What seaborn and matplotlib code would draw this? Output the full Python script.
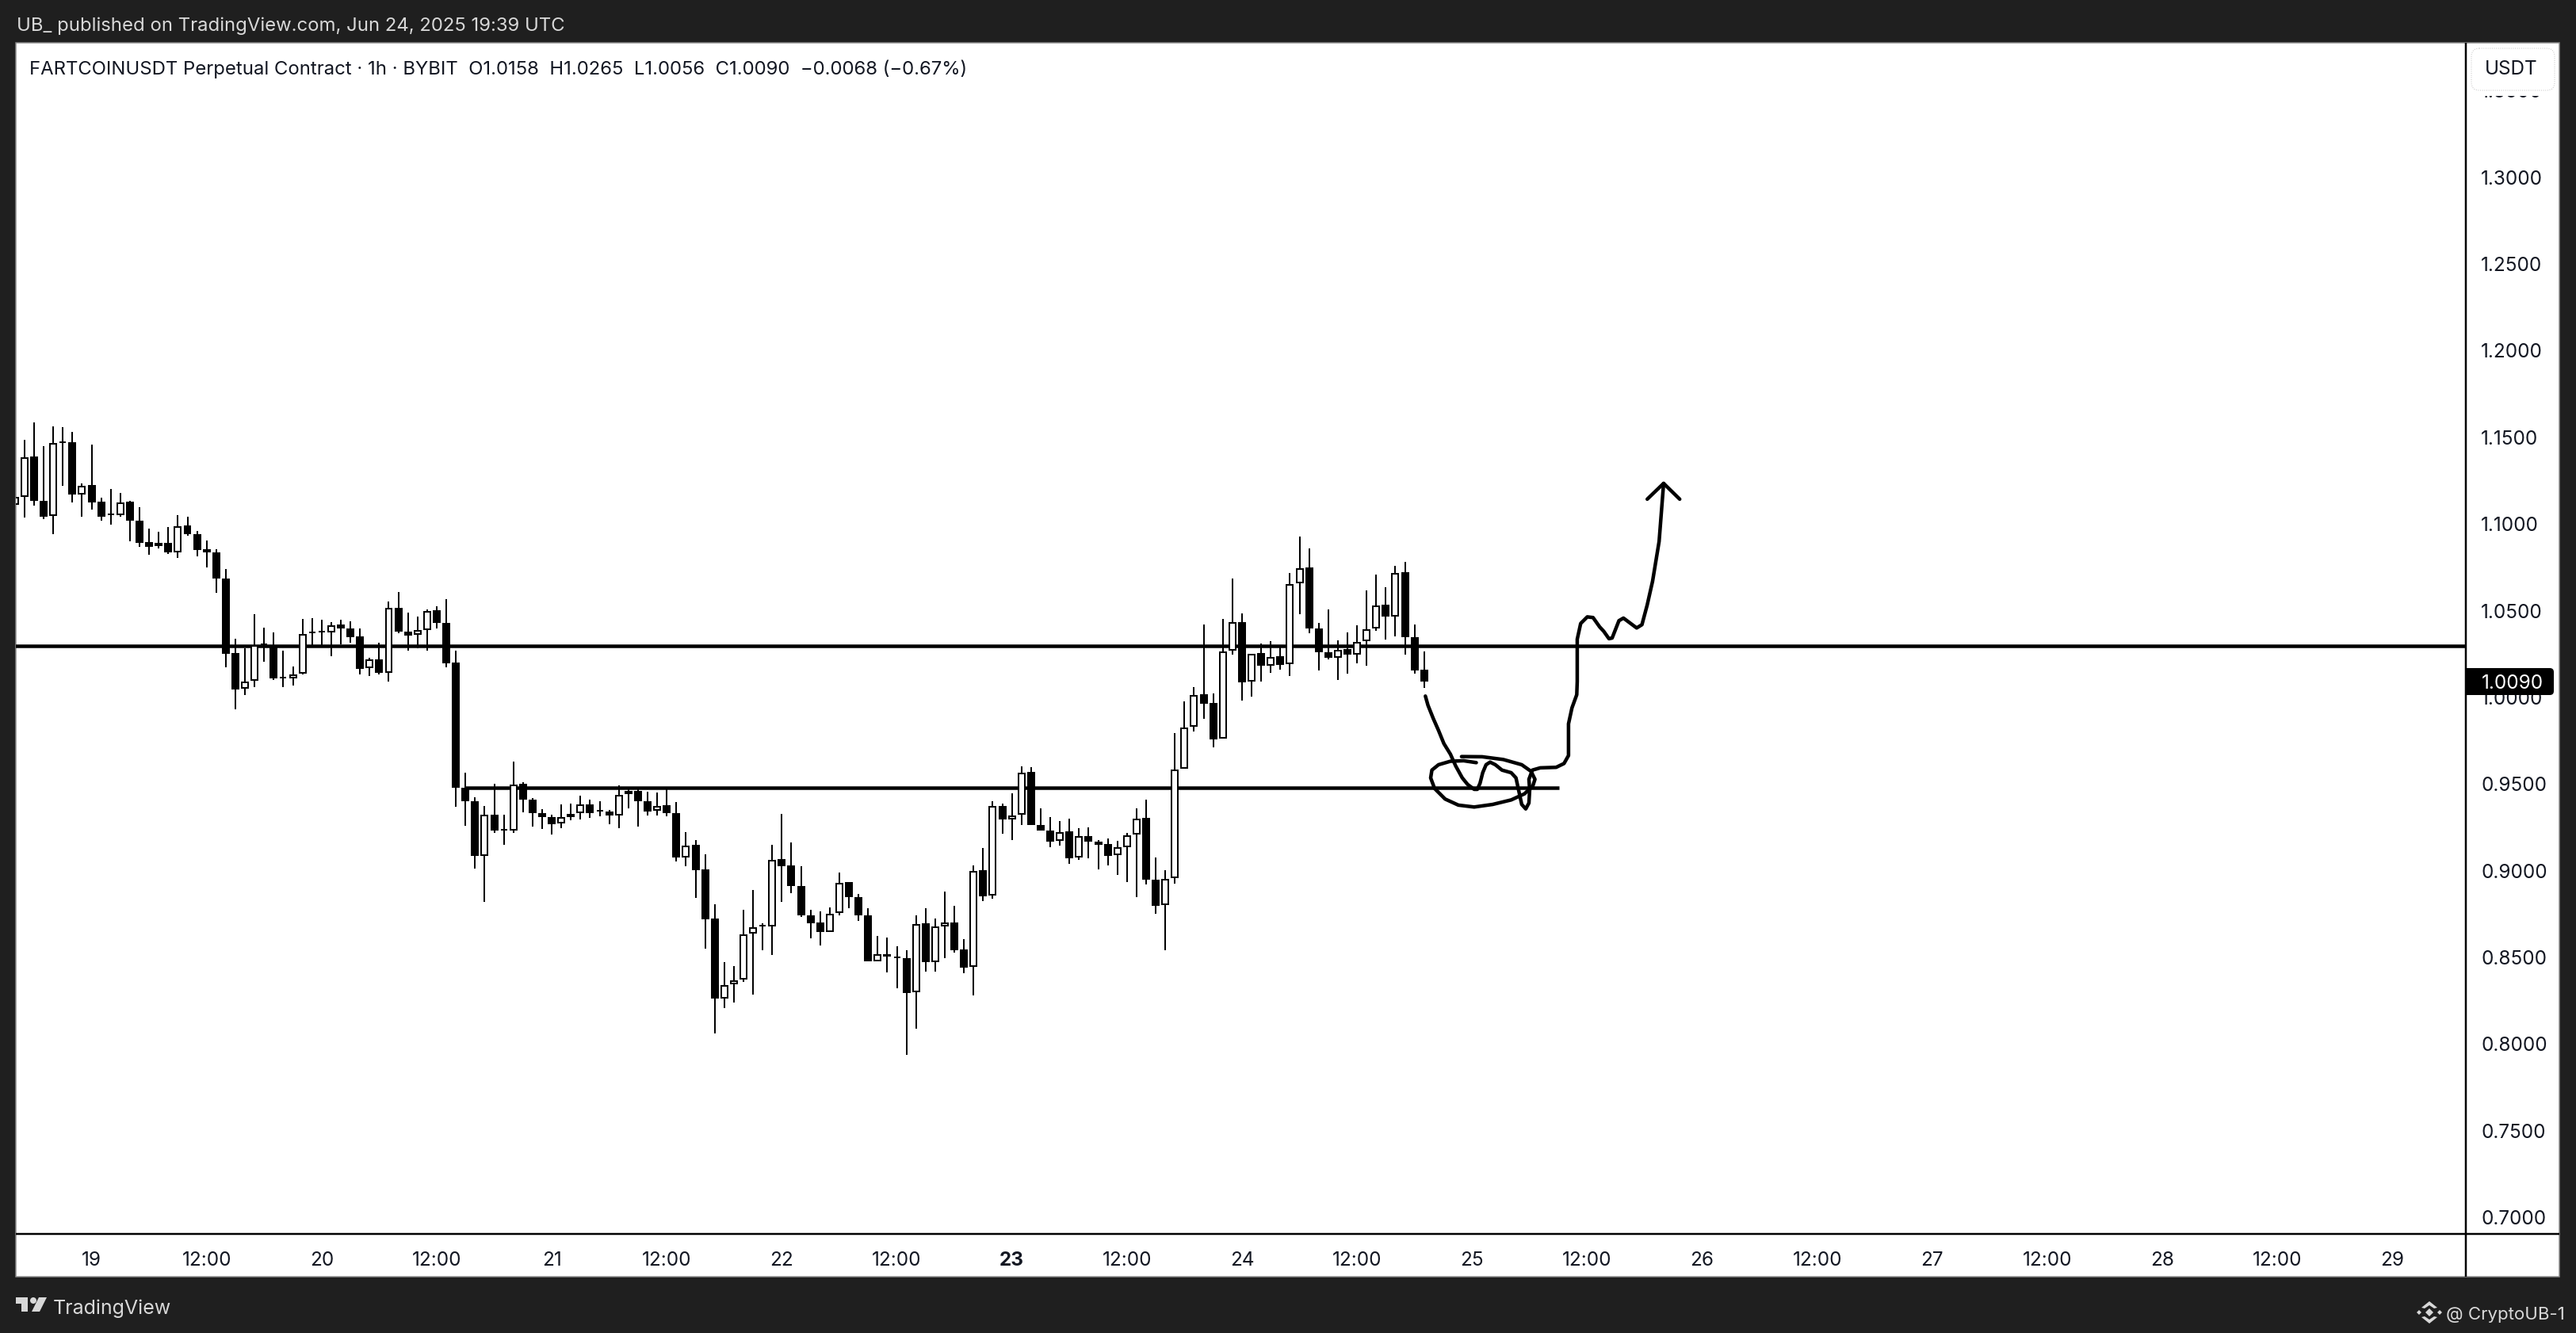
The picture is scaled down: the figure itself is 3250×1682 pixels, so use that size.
import matplotlib
matplotlib.use("Agg")
import matplotlib.pyplot as plt
from matplotlib.patches import Rectangle, Polygon, Circle, FancyBboxPatch
import pandas as pd
import seaborn as sns

# ----------------------------------------
# OHLC candles, hours counted from Jun 19 00:00
# ----------------------------------------
hours = list(range(-8, 140))
opens = [
    1.1110, 1.1157, 1.1389, 1.1133, 1.1046, 1.1475, 1.1471, 1.1171,
    1.1224, 1.1128, 1.1055, 1.1049, 1.1128, 1.1018, 1.0895, 1.0872, 1.0890, 1.0835, 1.0991, 1.0941,
    1.0854, 1.0835, 1.0684, 1.0255, 1.0050, 1.0095, 1.0308, 1.0297, 1.0113, 1.0110,
    1.0137, 1.0374, 1.0378, 1.0374, 1.0419, 1.0396, 1.0351, 1.0168, 1.0218, 1.0142,
    1.0515, 1.0381, 1.0361, 1.0389, 1.0502, 1.0428, 1.0201, 0.9480, 0.9399, 0.9085,
    0.9322, 0.9239, 0.9231, 0.9499, 0.9409, 0.9332, 0.9308, 0.9274, 0.9308, 0.9332,
    0.9382, 0.9347, 0.9339, 0.9320, 0.9441, 0.9460, 0.9399, 0.9345, 0.9376, 0.9332,
    0.9076, 0.9147, 0.9006, 0.8723, 0.8262, 0.8344, 0.8371, 0.8637, 0.8683, 0.8677,
    0.9066, 0.9029, 0.8910, 0.8741, 0.8700, 0.8646, 0.8756, 0.8933, 0.8847, 0.8741,
    0.8477, 0.8517, 0.8502, 0.8494, 0.8300, 0.8695, 0.8471, 0.8677, 0.8700, 0.8544,
    0.8444, 0.9002, 0.8855, 0.9372, 0.9294, 0.9322, 0.9569, 0.9262, 0.9230, 0.9171,
    0.9226, 0.9075, 0.9198, 0.9166, 0.9152, 0.9088, 0.9134, 0.9207, 0.9303, 0.8950,
    0.8801, 0.8957, 0.9589, 0.9830, 1.0016, 0.9967, 0.9762, 1.0271, 1.0436, 1.0091,
    1.0254, 1.0184, 1.0236, 1.0191, 1.0660, 1.0747, 1.0395, 1.0262, 1.0229, 1.0276,
    1.0247, 1.0325, 1.0397, 1.0534, 1.0467, 1.0721, 1.0348, 1.0158,
]
closes = [
    1.1154, 1.1387, 1.1131, 1.1044, 1.1465, 1.1469, 1.1168, 1.1222,
    1.1126, 1.1040, 1.1049, 1.1126, 1.1017, 1.0893, 1.0870, 1.0889, 1.0834, 1.0989, 1.0939, 1.0852,
    1.0834, 1.0683, 1.0253, 1.0047, 1.0093, 1.0300, 1.0302, 1.0107, 1.0108, 1.0134,
    1.0367, 1.0369, 1.0374, 1.0416, 1.0395, 1.0349, 1.0166, 1.0217, 1.0139, 1.0514,
    1.0381, 1.0358, 1.0386, 1.0500, 1.0427, 1.0198, 0.9476, 0.9399, 0.9083, 0.9322,
    0.9233, 0.9231, 0.9497, 0.9409, 0.9330, 0.9307, 0.9270, 0.9307, 0.9328, 0.9380,
    0.9330, 0.9339, 0.9316, 0.9439, 0.9459, 0.9399, 0.9343, 0.9374, 0.9330, 0.9074,
    0.9145, 0.9004, 0.8721, 0.8260, 0.8340, 0.8369, 0.8633, 0.8675, 0.8677, 0.9064,
    0.9027, 0.8910, 0.8741, 0.8698, 0.8644, 0.8752, 0.8931, 0.8845, 0.8741, 0.8475,
    0.8516, 0.8502, 0.8494, 0.8296, 0.8693, 0.8470, 0.8677, 0.8700, 0.8543, 0.8442,
    0.9000, 0.8854, 0.9371, 0.9293, 0.9320, 0.9567, 0.9261, 0.9229, 0.9169, 0.9224,
    0.9073, 0.9197, 0.9165, 0.9151, 0.9087, 0.9133, 0.9206, 0.9302, 0.8950, 0.8799,
    0.8953, 0.9585, 0.9827, 1.0014, 0.9965, 0.9758, 1.0266, 1.0434, 1.0087, 1.0252,
    1.0182, 1.0233, 1.0189, 1.0654, 1.0745, 1.0395, 1.0262, 1.0226, 1.0275, 1.0245,
    1.0320, 1.0394, 1.0532, 1.0464, 1.0719, 1.0348, 1.0157, 1.0090,
]
highs = [
    1.1154, 1.1485, 1.1585, 1.1448, 1.1562, 1.1558, 1.1530, 1.1233,
    1.1457, 1.1151, 1.1201, 1.1178, 1.1134, 1.1096, 1.0973, 1.0954, 1.0982, 1.1050, 1.1041, 1.0959,
    1.0904, 1.0854, 1.0739, 1.0337, 1.0282, 1.0479, 1.0401, 1.0374, 1.0270, 1.0177,
    1.0451, 1.0456, 1.0447, 1.0433, 1.0447, 1.0438, 1.0396, 1.0230, 1.0313, 1.0552,
    1.0607, 1.0488, 1.0465, 1.0509, 1.0524, 1.0566, 1.0269, 0.9564, 0.9422, 0.9372,
    0.9503, 0.9322, 0.9628, 0.9509, 0.9418, 0.9353, 0.9322, 0.9383, 0.9385, 0.9432,
    0.9409, 0.9399, 0.9349, 0.9491, 0.9472, 0.9472, 0.9455, 0.9449, 0.9472, 0.9395,
    0.9220, 0.9176, 0.9093, 0.8804, 0.8471, 0.8448, 0.8773, 0.8887, 0.8695, 0.9147,
    0.9326, 0.9162, 0.9024, 0.8773, 0.8764, 0.8787, 0.8987, 0.8933, 0.8864, 0.8781,
    0.8621, 0.8614, 0.8562, 0.8539, 0.8741, 0.8782, 0.8722, 0.8878, 0.8796, 0.8604,
    0.9029, 0.9130, 0.9399, 0.9386, 0.9445, 0.9601, 0.9595, 0.9358, 0.9308, 0.9287,
    0.9299, 0.9244, 0.9249, 0.9175, 0.9185, 0.9171, 0.9217, 0.9358, 0.9408, 0.9074,
    0.9001, 0.9792, 0.9975, 1.0058, 1.0418, 1.0024, 1.0451, 1.0684, 1.0483, 1.0252,
    1.0310, 1.0322, 1.0292, 1.0716, 1.0926, 1.0857, 1.0427, 1.0509, 1.0327, 1.0373,
    1.0415, 1.0616, 1.0707, 1.0633, 1.0758, 1.0780, 1.0418, 1.0265,
]
lows = [
    1.1110, 1.1035, 1.1104, 1.1030, 1.0939, 1.1218, 1.1126, 1.1040,
    1.1085, 1.1021, 1.0994, 1.1040, 1.0898, 1.0869, 1.0823, 1.0860, 1.0829, 1.0806, 1.0930, 1.0814,
    1.0747, 1.0605, 1.0171, 0.9933, 1.0015, 1.0057, 1.0207, 1.0098, 1.0057, 1.0066,
    1.0131, 1.0297, 1.0297, 1.0235, 1.0305, 1.0317, 1.0134, 1.0121, 1.0134, 1.0089,
    1.0369, 1.0267, 1.0281, 1.0267, 1.0395, 1.0171, 0.9370, 0.9260, 0.9010, 0.8822,
    0.9216, 0.9147, 0.9216, 0.9337, 0.9253, 0.9239, 0.9210, 0.9247, 0.9289, 0.9297,
    0.9303, 0.9312, 0.9266, 0.9247, 0.9357, 0.9256, 0.9316, 0.9316, 0.9312, 0.9051,
    0.9024, 0.8841, 0.8548, 0.8063, 0.8206, 0.8237, 0.8356, 0.8283, 0.8539, 0.8512,
    0.8822, 0.8868, 0.8731, 0.8608, 0.8566, 0.8646, 0.8741, 0.8783, 0.8712, 0.8475,
    0.8477, 0.8412, 0.8323, 0.7936, 0.8090, 0.8419, 0.8419, 0.8497, 0.8529, 0.8406,
    0.8278, 0.8826, 0.8840, 0.9211, 0.9178, 0.9261, 0.9261, 0.9229, 0.9133, 0.9146,
    0.9041, 0.9064, 0.9073, 0.9009, 0.9032, 0.8977, 0.8936, 0.8845, 0.8922, 0.8749,
    0.8539, 0.8927, 0.9589, 0.9804, 0.9874, 0.9713, 0.9762, 1.0248, 0.9982, 1.0005,
    1.0093, 1.0143, 1.0161, 1.0124, 1.0481, 1.0371, 1.0157, 1.0217, 1.0101, 1.0135,
    1.0196, 1.0180, 1.0385, 1.0334, 1.0353, 1.0248, 1.0135, 1.0056,
]

# horizontal levels
level_top = 1.0297
level_low = 0.9478
level_low_span = [39, 153.1]

# hand drawn pen strokes (hour, price)
pen_x = [139.13, 139.40, 139.95, 140.50, 141.06, 141.74, 142.30, 142.98, 143.54, 144.22, 144.55,
         144.83, 145.11, 145.46, 145.88, 146.43, 147.12, 148.08, 148.58, 148.85, 149.18, 149.60,
         149.93, 150.01, 149.93, 150.29, 151.11, 152.77, 153.59, 154.06, 154.06, 154.42, 154.92,
         154.97, 154.97, 154.97, 155.33, 156.02, 156.62, 157.31, 157.73, 158.28, 158.61, 159.32,
         159.79, 161.17, 161.72, 162.27, 162.83, 163.51, 163.98]
pen_y = [1.0007, 0.9954, 0.9878, 0.9809, 0.9733, 0.9672, 0.9603, 0.9535, 0.9497, 0.9469, 0.9469,
         0.9504, 0.9565, 0.9611, 0.9626, 0.9611, 0.9580, 0.9565, 0.9535, 0.9466, 0.9382, 0.9356,
         0.9390, 0.9466, 0.9527, 0.9580, 0.9593, 0.9596, 0.9618, 0.9664, 0.9847, 0.9939, 1.0015,
         1.0091, 1.0228, 1.0335, 1.0426, 1.0464, 1.0460, 1.0406, 1.0381, 1.0338, 1.0342, 1.0442,
         1.0457, 1.0400, 1.0419, 1.0533, 1.0670, 1.0899, 1.1234]
head_x = [162.27, 163.98, 165.66]
head_y = [1.1143, 1.1234, 1.1143]
loop_x = [144.44, 143.12, 141.74, 140.50, 139.81, 139.68, 140.09, 141.19, 142.57, 144.22, 146.15,
          148.08, 149.46, 150.34, 150.56, 150.15, 149.18, 147.26, 145.05, 142.90]
loop_y = [0.9623, 0.9634, 0.9631, 0.9611, 0.9580, 0.9535, 0.9474, 0.9413, 0.9378, 0.9367, 0.9382,
          0.9408, 0.9443, 0.9489, 0.9527, 0.9573, 0.9611, 0.9641, 0.9657, 0.9658]

# axis labels
price_ticks = [0.70, 0.75, 0.80, 0.85, 0.90, 0.95, 1.00, 1.05, 1.10, 1.15, 1.20, 1.25, 1.30, 1.35]
time_ticks = [0, 12, 24, 36, 48, 60, 72, 84, 96, 108, 120, 132, 144, 156, 168, 180, 192, 204, 216, 228, 240]
time_labels = ["19", "12:00", "20", "12:00", "21", "12:00", "22", "12:00", "23", "12:00", "24", "12:00",
               "25", "12:00", "26", "12:00", "27", "12:00", "28", "12:00", "29"]

W, H = 3250, 1682
PX = 0.72  # one pixel in points at dpi 100
DARK = "#1f1f1f"
LIGHT = "#d8d8d8"

sns.set_theme(style="white")
plt.rcParams["font.family"] = ["Inter", "DejaVu Sans"]

fig = plt.figure(figsize=(W / 100, H / 100), dpi=100, facecolor=DARK)

# background panel, in pixels
bg = fig.add_axes([0, 0, 1, 1], zorder=0)
bg.set_xlim(0, W)
bg.set_ylim(H, 0)
bg.axis("off")
bg.add_patch(Rectangle((20, 54), 3209, 1557, fc="white", ec="#8a8a8a", lw=1.5 * PX))

# main chart
left, right, top, bottom = 20, 3111, 54, 1557
ax = fig.add_axes([left / W, (H - bottom) / H, (right - left) / W, (bottom - top) / H], zorder=1)
ax.patch.set_alpha(0)

df = pd.DataFrame({"hour": hours, "open": opens, "high": highs, "low": lows, "close": closes})
df["up"] = df["close"] >= df["open"]

ax.axhline(level_top, color="black", lw=4.5 * PX, zorder=1)
ax.hlines(level_low, level_low_span[0], level_low_span[1], color="black", lw=4.5 * PX, zorder=1)

wicks = df.melt(id_vars="hour", value_vars=["high", "low"], value_name="price")
sns.lineplot(data=wicks, x="hour", y="price", units="hour", estimator=None, sort=False,
             color="black", lw=2 * PX, solid_capstyle="butt", legend=False, ax=ax, zorder=2)

# body edge is 2px wide, pull it in so the outer edge sits on open/close
price_per_px = (1.3776 - 0.6904) / (bottom - top)
tops = df[["open", "close"]].max(axis=1) - price_per_px
bots = df[["open", "close"]].min(axis=1) + price_per_px
heights = (tops - bots).clip(lower=0)
ax.bar(df["hour"], heights, bottom=bots, width=0.66,
       color=["white" if u else "black" for u in df["up"]],
       edgecolor="black", linewidth=2 * PX, zorder=3)

pen = dict(color="black", lw=4.5 * PX, sort=False, estimator=None, legend=False, ax=ax, zorder=4,
           solid_capstyle="round", solid_joinstyle="round")
sns.lineplot(x=pen_x, y=pen_y, **pen)
sns.lineplot(x=head_x, y=head_y, **pen)
sns.lineplot(x=loop_x, y=loop_y, **pen)

ax.set_xlim(-7.9, 247.66)
ax.set_ylim(0.6904, 1.3776)
ax.set_xlabel("")
ax.set_ylabel("")
sns.despine(ax=ax, left=True, bottom=True, right=True, top=True)

ax.yaxis.tick_right()
ax.set_yticks(price_ticks)
ax.set_yticklabels([f"{p:.4f}" for p in price_ticks])
ax.set_xticks(time_ticks)
ax.set_xticklabels(time_labels)
ax.tick_params(axis="y", length=0, pad=13.7, labelsize=17.5, labelcolor="#131722")
ax.tick_params(axis="x", length=0, pad=15.5, labelsize=17.5, labelcolor="#131722")
ax.get_xticklabels()[8].set_fontweight("bold")

# frame, tag and window chrome on top, in pixels
fg = fig.add_axes([0, 0, 1, 1], zorder=2)
fg.set_xlim(0, W)
fg.set_ylim(H, 0)
fg.axis("off")
fg.patch.set_alpha(0)

fg.plot([3111, 3111], [54, 1611], color="black", lw=2.5 * PX, solid_capstyle="butt")
fg.plot([20, 3229], [1557, 1557], color="black", lw=2.5 * PX, solid_capstyle="butt")

# USDT box hides most of the top price label
fg.add_patch(Rectangle((3113, 56), 115, 65, fc="white", ec="none"))
fg.add_patch(FancyBboxPatch((3124, 67), 93, 41, boxstyle="round,pad=6,rounding_size=10",
                            fc="white", ec="#c4c4c4", lw=1 * PX, ls=":"))
fg.text(3168, 87, "USDT", ha="center", va="center", fontsize=17.5, color="#131722")

# last price tag
fg.add_patch(FancyBboxPatch((3116, 848), 101, 24, boxstyle="round,pad=5,rounding_size=5", fc="black", ec="none"))
fg.add_patch(Rectangle((3111, 843), 12, 34, fc="black", ec="none"))
fg.text(3170, 860, "1.0090", ha="center", va="center_baseline", fontsize=17.5, color="white")

fg.text(21, 33, "UB_ published on TradingView.com, Jun 24, 2025 19:39 UTC", ha="left", va="center",
        fontsize=17.2, color=LIGHT)
fg.text(37, 87, "FARTCOINUSDT Perpetual Contract · 1h · BYBIT  O1.0158  H1.0265  L1.0056  C1.0090  −0.0068 (−0.67%)",
        ha="left", va="center", fontsize=17.2, color="#131722")

# TradingView logo
fg.add_patch(Polygon([(20, 1637), (35, 1637), (35, 1655), (27, 1655), (27, 1645), (20, 1645)], fc=LIGHT, ec="none"))
fg.add_patch(Circle((42, 1641), 4, fc=LIGHT, ec="none"))
fg.add_patch(Polygon([(49, 1637), (59, 1637), (50, 1655), (40, 1655)], fc=LIGHT, ec="none"))
fg.text(67, 1651, "TradingView", ha="left", va="center", fontsize=18, color=LIGHT)

# exchange mark
for cx, cy, r in [(3065, 1656, 5), (3052, 1656, 3), (3078, 1656, 3)]:
    fg.add_patch(Polygon([(cx - r, cy), (cx, cy - r), (cx + r, cy), (cx, cy + r)], fc=LIGHT, ec="none"))
fg.add_patch(Polygon([(3055, 1650), (3065, 1642), (3075, 1650), (3071, 1651), (3065, 1647), (3059, 1651)], fc=LIGHT, ec="none"))
fg.add_patch(Polygon([(3055, 1662), (3065, 1670), (3075, 1662), (3071, 1661), (3065, 1665), (3059, 1661)], fc=LIGHT, ec="none"))
fg.text(3086, 1659, "@ CryptoUB-1", ha="left", va="center", fontsize=16, color=LIGHT)

fig.savefig("out.png", dpi=100, facecolor=DARK)
